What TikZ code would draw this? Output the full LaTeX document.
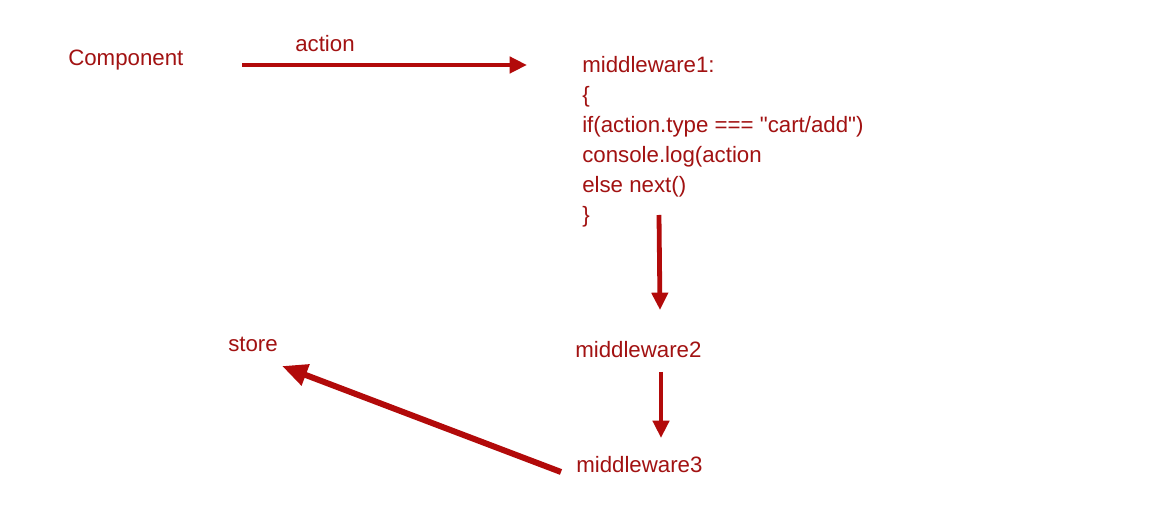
\documentclass[tikz,border=0pt]{standalone}
\usepackage{fontspec}
\setmainfont{Liberation Sans}[Ligatures=TeXOff]
\usetikzlibrary{arrows.meta, positioning}
\definecolor{inkred}{RGB}{162,18,18}
\definecolor{arrowred}{RGB}{178,10,10}

\begin{document}
\begin{tikzpicture}[x=0.75pt, y=-0.75pt,
    label/.style={text=inkred, inner sep=0pt, font=\fontsize{16.7}{22.5}\selectfont},
    flow/.style={draw=arrowred, line width=3.2pt, -{Triangle[length=13pt, width=12pt]}}]
  \useasboundingbox[fill=white] (0,0) rectangle (1161,516);
  \node[label, anchor=base west] (comp) at (68,66) {Component};
  \node[label, anchor=base west] (act) at (295,52) {action};
  \node[label, anchor=base west, align=left] (mw1) at (582,223)
    {middleware1:\\ \{\\ if(action.type === "cart/add")\\ console.log(action\\ else next()\\ \}};
  \node[label, anchor=base west] (mw2) at (575,358) {middleware2};
  \node[label, anchor=base west] (mw3) at (576,473) {middleware3};
  \node[label, anchor=base west] (store) at (228,352) {store};
  % arrow ends
  \coordinate (a1s) at (242,65);
  \coordinate (a1e) at (527,65);
  \coordinate (a2s) at (659,215);
  \coordinate (a2e) at (660,310);
  \coordinate (a3s) at (661,372);
  \coordinate (a3e) at (661,438);
  \coordinate (a4s) at (561,472);
  \coordinate (a4e) at (282,366);
  \draw[flow] (a1s) -- (a1e);
  \draw[flow, line width=3.6pt] (a2s) -- (a2e);
  \draw[flow, line width=3.6pt] (a3s) -- (a3e);
  \draw[flow, line width=4.5pt, -{Triangle[length=19pt, width=16pt]}] (a4s) -- (a4e);
\end{tikzpicture}
\end{document}
